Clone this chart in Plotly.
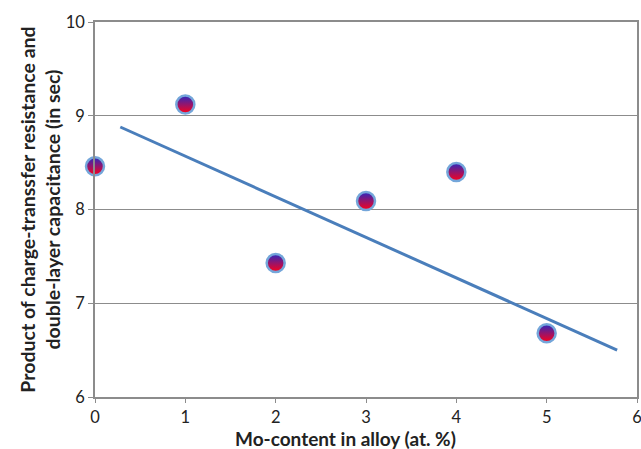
import plotly.graph_objects as go

mo_content = [0, 1, 2, 3, 4, 5]
product_sec = [8.46, 9.12, 7.43, 8.09, 8.40, 6.68]
trend_x = [0.28, 5.78]
trend_y = [8.88, 6.50]
x_ticks = [0, 1, 2, 3, 4, 5, 6]
y_ticks = [6, 7, 8, 9, 10]

fig = go.Figure()
fig.add_trace(go.Scatter(
    x=trend_x, y=trend_y, mode="lines",
    line=dict(color="#4A7EBB", width=3), showlegend=False, cliponaxis=False))
fig.add_trace(go.Scatter(
    x=mo_content, y=product_sec, mode="markers", cliponaxis=False, showlegend=False,
    marker=dict(size=18, color="#2A2AC0", symbol="circle",
                gradient=dict(type="vertical", color="#FF0018"),
                line=dict(color="#74A6DA", width=2.5))))

font = "Lato, 'Open Sans', 'Liberation Sans', sans-serif"
fig.update_layout(
    width=641, height=449,
    margin=dict(l=95, r=4, t=22, b=52),
    plot_bgcolor="white", paper_bgcolor="white",
    font=dict(family=font, size=16.5, color="#222"),
)
fig.add_annotation(
    text="<b>Mo-content in alloy (at. %)</b>", xref="paper", yref="paper",
    x=(345 - 95) / 542, y=-(438 - 397) / 375, xanchor="center", yanchor="middle",
    showarrow=False, font=dict(size=19), borderpad=0,
)
fig.update_xaxes(
    range=[0, 6], tickvals=x_ticks, showgrid=False, zeroline=False, automargin=False,
    showline=True, linecolor="#8C8C8C", linewidth=1.5, mirror=True,
    ticks="outside", ticklen=4, tickcolor="#8C8C8C", ticklabeloverflow="allow",
)
fig.update_yaxes(
    range=[6, 10], tickvals=y_ticks, showgrid=True, gridcolor="#8C8C8C", gridwidth=1.2,
    zeroline=False, showline=True, linecolor="#8C8C8C", linewidth=1.5, mirror=True,
    ticks="outside", ticklen=5, tickcolor="#8C8C8C", automargin=False,
    title=dict(text="<b>Product of charge-transsfer resistance and<br>double-layer capacitance (in sec)</b>",
               font=dict(size=19.5), standoff=0),
)
fig.write_html("out.html")
